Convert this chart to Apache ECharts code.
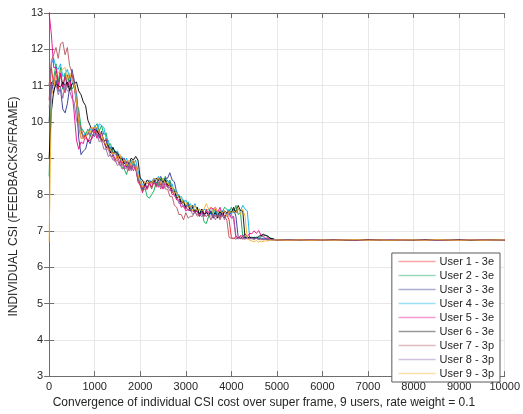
<!DOCTYPE html>
<html>
<head>
<meta charset="utf-8">
<script src="https://cdn.jsdelivr.net/npm/echarts@6/dist/echarts.min.js"></script>
<style>
  html, body { margin: 0; padding: 0; background: #fff; }
  #chart { width: 523px; height: 414px; }
</style>
</head>
<body>
<div id="chart"></div>
<script>
// Sample positions along the super-frame axis: every 50 frames up to 5000, then every 250.
const frames = [];
for (let k = 0; k <= 100; k++) frames.push(k * 50);
for (let k = 1; k <= 20; k++) frames.push(5000 + k * 250);

const userNames = [
  'User 1 - 3e', 'User 2 - 3e', 'User 3 - 3e', 'User 4 - 3e', 'User 5 - 3e',
  'User 6 - 3e', 'User 7 - 3p', 'User 8 - 3p', 'User 9 - 3p'
];

const user1 = [
  10.6, 11.5, 11.0, 11.4, 10.9, 11.3, 11.0, 10.8, 11.3, 11.1,
  11.3, 11.1, 10.8, 10.1, 9.75, 9.55, 9.65, 9.45, 9.6, 9.75,
  9.7, 9.85, 9.65, 9.7, 9.45, 9.55, 9.25, 9.3, 9.15, 9.2,
  8.95, 9.1, 8.85, 8.95, 8.75, 8.9, 8.7, 8.85, 8.8, 8.5,
  8.3, 8.1, 8.25, 8.15, 8.3, 8.2, 8.4, 8.25, 8.45, 8.25,
  8.35, 8.45, 8.2, 8.35, 8.05, 8.1, 7.9, 7.95, 7.75, 7.8,
  7.6, 7.75, 7.55, 7.65, 7.5, 7.6, 7.45, 7.55, 7.4, 7.6,
  7.4, 7.55, 7.35, 7.5, 7.45, 7.35, 7.55, 7.4, 7.45, 7.3,
  6.82, 6.78, 6.85, 6.8, 6.84, 6.79, 6.83, 6.8, 6.84, 6.79,
  6.82, 6.79, 6.81, 6.77, 6.8, 6.77, 6.78, 6.76, 6.77, 6.75,
  6.75,
  6.74, 6.75, 6.74, 6.75, 6.76, 6.74, 6.75, 6.74, 6.75, 6.74,
  6.75, 6.74, 6.76, 6.75, 6.74, 6.75, 6.74, 6.75, 6.74, 6.75
];
const user2 = [
  8.5, 11.0, 11.2, 11.6, 11.1, 11.5, 10.9, 11.35, 11.0, 11.3,
  10.9, 11.0, 10.5, 10.35, 9.85, 9.75, 9.65, 9.8, 9.6, 9.8,
  9.85, 9.95, 9.75, 9.9, 9.65, 9.7, 9.35, 9.4, 9.15, 9.2,
  8.95, 9.05, 8.75, 8.7, 8.55, 8.8, 8.7, 8.95, 8.75, 8.45,
  8.35, 8.15, 8.2, 7.95, 7.9, 8.0, 8.1, 8.35, 8.25, 8.45,
  8.3, 8.5, 8.25, 8.4, 8.15, 8.15, 7.95, 8.0, 7.8, 7.85,
  7.65, 7.8, 7.6, 7.7, 7.5, 7.65, 7.45, 7.6, 7.25, 7.2,
  7.4, 7.55, 7.5, 7.6, 7.4, 7.55, 7.5, 7.65, 7.6, 7.5,
  7.65, 7.5, 7.7, 7.45, 7.5, 6.85, 6.8, 6.84, 6.8, 6.83,
  6.8, 6.83, 6.79, 6.84, 6.86, 6.89, 6.84, 6.81, 6.78, 6.77,
  6.76,
  6.75, 6.74, 6.75, 6.76, 6.75, 6.74, 6.75, 6.76, 6.74, 6.75,
  6.74, 6.75, 6.75, 6.74, 6.76, 6.75, 6.74, 6.75, 6.75, 6.74
];
const user3 = [
  10.0, 11.1, 10.8, 11.15, 10.85, 10.9, 10.35, 10.25, 10.5, 10.95,
  11.45, 11.15, 10.5, 9.55, 9.1, 9.2, 9.25, 9.5, 9.4, 9.65,
  9.6, 9.8, 9.55, 9.75, 9.45, 9.5, 9.25, 9.3, 9.05, 9.2,
  9.0, 9.05, 8.95, 9.0, 8.75, 8.9, 8.85, 8.95, 8.7, 8.4,
  8.3, 8.15, 8.35, 8.15, 8.35, 8.3, 8.45, 8.25, 8.4, 8.5,
  8.35, 8.45, 8.45, 8.6, 8.4, 8.35, 8.05, 7.95, 7.8, 7.8,
  7.65, 7.75, 7.65, 7.7, 7.5, 7.55, 7.4, 7.6, 7.45, 7.5,
  7.45, 7.55, 7.35, 7.55, 7.5, 7.4, 7.55, 7.35, 7.5, 7.45,
  7.5, 7.6, 7.4, 6.82, 6.79, 6.84, 6.8, 6.83, 6.79, 6.8,
  6.78, 6.81, 6.78, 6.8, 6.77, 6.79, 6.76, 6.78, 6.75, 6.76,
  6.75,
  6.74, 6.75, 6.75, 6.74, 6.75, 6.74, 6.76, 6.75, 6.74, 6.75,
  6.75, 6.74, 6.75, 6.74, 6.75, 6.76, 6.74, 6.75, 6.74, 6.75
];
const user4 = [
  11.0, 11.6, 11.75, 11.5, 11.45, 11.6, 11.25, 11.3, 11.45, 11.2,
  11.15, 10.95, 10.75, 9.95, 9.75, 9.6, 9.7, 9.65, 9.8, 9.75,
  9.9, 9.75, 9.95, 9.9, 9.85, 9.55, 9.5, 9.25, 9.3, 9.15,
  9.2, 9.0, 9.05, 8.85, 9.0, 8.8, 8.95, 8.8, 8.95, 8.65,
  8.45, 8.25, 8.3, 8.3, 8.4, 8.35, 8.45, 8.4, 8.5, 8.3,
  8.45, 8.25, 8.4, 8.25, 8.3, 8.05, 8.1, 7.9, 7.95, 7.8,
  7.85, 7.7, 7.75, 7.6, 7.75, 7.55, 7.6, 7.45, 7.6, 7.55,
  7.6, 7.45, 7.6, 7.4, 7.55, 7.5, 7.55, 7.5, 7.45, 7.6,
  7.45, 7.6, 7.55, 7.6, 7.55, 7.7, 7.6, 7.55, 6.82, 6.78,
  6.83, 6.79, 6.81, 6.78, 6.8, 6.77, 6.78, 6.75, 6.76, 6.75,
  6.75,
  6.75, 6.74, 6.75, 6.75, 6.74, 6.76, 6.75, 6.74, 6.75, 6.75,
  6.74, 6.75, 6.76, 6.74, 6.75, 6.75, 6.74, 6.76, 6.75, 6.74
];
const user5 = [
  13.0, 12.4, 11.5, 11.5, 11.0, 11.35, 10.95, 11.25, 10.95, 11.15,
  10.85, 10.25, 9.5, 9.25, 9.45, 9.4, 9.65, 9.45, 9.5, 9.55,
  9.8, 9.55, 9.75, 9.5, 9.45, 9.3, 9.3, 9.15, 9.15, 8.95,
  9.1, 8.85, 9.0, 8.75, 8.9, 8.7, 8.85, 8.65, 8.8, 8.35,
  8.25, 8.05, 8.3, 8.15, 8.35, 8.2, 8.35, 8.3, 8.2, 8.35,
  8.15, 8.35, 8.2, 8.2, 8.0, 8.0, 7.85, 7.85, 7.65, 7.7,
  7.55, 7.6, 7.55, 7.55, 7.5, 7.55, 7.4, 7.55, 7.4, 7.55,
  7.5, 7.65, 7.6, 7.65, 7.5, 7.65, 7.45, 7.5, 7.45, 7.5,
  7.35, 7.4, 6.85, 6.8, 6.87, 6.85, 6.92, 6.84, 6.93, 6.92,
  7.0, 6.93, 7.01, 6.88, 6.86, 6.8, 6.81, 6.77, 6.78, 6.76,
  6.75,
  6.74, 6.75, 6.76, 6.75, 6.74, 6.75, 6.74, 6.75, 6.76, 6.74,
  6.75, 6.74, 6.75, 6.75, 6.74, 6.75, 6.76, 6.74, 6.75, 6.74
];
const user6 = [
  9.0, 10.3, 10.85, 11.05, 11.0, 10.95, 11.1, 11.0, 11.1, 10.85,
  11.05, 11.05, 11.1, 10.85, 10.75, 10.55, 10.45, 10.05, 9.9, 9.75,
  9.8, 9.75, 9.65, 9.5, 9.5, 9.3, 9.35, 9.15, 9.3, 9.15,
  9.15, 9.0, 9.0, 8.85, 8.9, 8.85, 9.0, 8.95, 9.05, 8.95,
  8.45, 8.4, 8.25, 8.4, 8.35, 8.35, 8.3, 8.45, 8.4, 8.4,
  8.35, 8.4, 8.25, 8.25, 8.1, 8.1, 7.9, 7.95, 7.75, 7.8,
  7.65, 7.7, 7.55, 7.65, 7.5, 7.65, 7.45, 7.6, 7.45, 7.5,
  7.45, 7.5, 7.45, 7.5, 7.35, 7.55, 7.4, 7.55, 7.5, 7.55,
  7.5, 7.65, 7.5, 7.7, 7.55, 7.55, 6.82, 6.79, 6.83, 6.8,
  6.81, 6.8, 6.85, 6.87, 6.91, 6.87, 6.86, 6.79, 6.79, 6.76,
  6.75,
  6.75, 6.74, 6.75, 6.74, 6.75, 6.75, 6.74, 6.76, 6.75, 6.74,
  6.75, 6.74, 6.75, 6.76, 6.74, 6.75, 6.74, 6.75, 6.75, 6.74
];
const user7 = [
  11.0, 11.7, 11.85, 12.05, 11.75, 12.15, 12.2, 11.85, 12.05, 11.55,
  11.35, 10.95, 10.55, 9.95, 9.85, 9.6, 9.65, 9.65, 9.85, 9.8,
  9.85, 9.65, 9.65, 9.45, 9.5, 9.25, 9.25, 9.05, 9.05, 8.9,
  8.95, 8.8, 8.85, 8.7, 8.85, 8.65, 8.8, 8.75, 8.75, 8.4,
  8.25, 8.1, 8.15, 8.15, 8.3, 8.15, 8.35, 8.2, 8.35, 8.15,
  8.3, 8.15, 8.15, 7.95, 7.95, 7.7, 7.65, 7.45, 7.45, 7.3,
  7.5, 7.35, 7.4, 7.4, 7.55, 7.4, 7.45, 7.4, 7.45, 7.4,
  7.45, 7.3, 7.45, 7.4, 7.45, 7.3, 7.45, 7.4, 7.3, 6.82,
  6.79, 6.8, 6.77, 6.81, 6.78, 6.8, 6.77, 6.8, 6.78, 6.79,
  6.77, 6.79, 6.76, 6.78, 6.76, 6.77, 6.75, 6.76, 6.75, 6.75,
  6.75,
  6.74, 6.75, 6.74, 6.74, 6.75, 6.76, 6.74, 6.75, 6.74, 6.75,
  6.76, 6.75, 6.74, 6.75, 6.74, 6.74, 6.75, 6.76, 6.74, 6.75
];
const user8 = [
  10.4, 11.0, 11.15, 11.05, 10.75, 10.95, 10.65, 11.05, 10.85, 10.85,
  10.65, 10.55, 10.05, 9.85, 9.55, 9.55, 9.55, 9.7, 9.65, 9.8,
  9.65, 9.65, 9.45, 9.5, 9.25, 9.25, 9.05, 9.1, 8.95, 8.95,
  8.8, 8.85, 8.7, 8.75, 8.7, 8.85, 8.65, 8.8, 8.75, 8.45,
  8.35, 8.2, 8.35, 8.3, 8.35, 8.35, 8.35, 8.3, 8.35, 8.2,
  8.35, 8.2, 8.25, 8.1, 8.15, 7.95, 7.95, 7.75, 7.8, 7.65,
  7.7, 7.55, 7.6, 7.45, 7.5, 7.45, 7.45, 7.4, 7.45, 7.4,
  7.45, 7.4, 7.45, 7.3, 7.45, 7.4, 7.45, 7.3, 7.45, 7.4,
  7.45, 7.3, 6.8, 6.78, 6.81, 6.77, 6.8, 6.78, 6.79, 6.79,
  6.77, 6.8, 6.76, 6.79, 6.75, 6.78, 6.75, 6.76, 6.75, 6.76,
  6.75,
  6.75, 6.74, 6.76, 6.75, 6.74, 6.75, 6.75, 6.74, 6.75, 6.76,
  6.74, 6.75, 6.74, 6.75, 6.75, 6.74, 6.76, 6.75, 6.74, 6.75
];
const user9 = [
  6.7, 10.7, 10.95, 11.3, 11.35, 11.4, 11.45, 11.5, 11.15, 11.35,
  11.15, 11.05, 10.55, 10.05, 9.55, 9.55, 9.55, 9.75, 9.7, 9.85,
  9.85, 9.85, 9.7, 9.65, 9.45, 9.4, 9.25, 9.25, 9.1, 9.15,
  8.95, 9.1, 8.9, 8.95, 8.8, 8.95, 8.8, 8.95, 8.8, 8.55,
  8.35, 8.2, 8.35, 8.3, 8.35, 8.3, 8.45, 8.4, 8.45, 8.3,
  8.45, 8.3, 8.35, 8.2, 8.2, 8.05, 8.05, 7.9, 7.9, 7.75,
  7.8, 7.65, 7.7, 7.55, 7.7, 7.55, 7.6, 7.55, 7.6, 7.75,
  7.6, 7.65, 7.5, 7.65, 7.5, 7.55, 7.5, 7.55, 7.4, 7.55,
  7.5, 7.55, 7.5, 7.65, 7.45, 7.6, 7.4, 6.8, 6.74, 6.72,
  6.7, 6.73, 6.69, 6.72, 6.7, 6.73, 6.72, 6.75, 6.73, 6.75,
  6.75,
  6.74, 6.75, 6.74, 6.75, 6.74, 6.75, 6.76, 6.74, 6.75, 6.74,
  6.75, 6.75, 6.74, 6.76, 6.75, 6.74, 6.75, 6.74, 6.75, 6.75
];

const userValues = [user1, user2, user3, user4, user5, user6, user7, user8, user9];
const userColors = [
  '#ee1c25', '#00a651', '#2e3192', '#00aeef', '#ec008c',
  '#000000', '#b5535c', '#8e63a8', '#f7b12a'
];

const xTicks = { min: 0, max: 10000, interval: 1000 };
const yTicks = { min: 3, max: 13, interval: 1 };

const textColor = '#262626';
const axisColor = '#6e6e6e';
const gridColor = '#e8e8e8';
const font = 'Liberation Sans, Arial, Helvetica, sans-serif';

const chart = echarts.init(document.getElementById('chart'), null, { renderer: 'canvas' });

// Axis used for the frame box: line plus inward ticks, no labels.
const boxAxis = (extra) => Object.assign({
  type: 'value',
  axisLine: { show: true, lineStyle: { color: axisColor, width: 1 } },
  axisTick: { show: true, inside: true, length: 5, lineStyle: { color: axisColor } },
  axisLabel: { show: false },
  splitLine: { show: false }
}, extra);

chart.setOption({
  animation: false,
  backgroundColor: '#ffffff',
  textStyle: { fontFamily: font },
  grid: { left: 40, top: 13, right: 15, bottom: 30, containLabel: false },
  xAxis: [
    boxAxis({
      position: 'bottom',
      min: xTicks.min, max: xTicks.max, interval: xTicks.interval,
      name: 'Convergence of individual CSI cost over super frame, 9 users, rate weight = 0.1',
      nameLocation: 'middle', nameGap: 15,
      nameTextStyle: { color: textColor, fontSize: 12, fontFamily: font, padding: [0, 26, 0, 0] },
      axisLabel: {
        show: true, color: textColor, fontSize: 11, margin: 5, fontFamily: font,
        formatter: (v) => String(v)
      },
      splitLine: { show: true, lineStyle: { color: gridColor, width: 1 } }
    }),
    boxAxis({ position: 'top', min: xTicks.min, max: xTicks.max, interval: xTicks.interval })
  ],
  yAxis: [
    boxAxis({
      position: 'left',
      min: yTicks.min, max: yTicks.max, interval: yTicks.interval,
      name: 'INDIVIDUAL CSI (FEEDBACKS/FRAME)',
      nameLocation: 'middle', nameGap: 26,
      nameTextStyle: { color: textColor, fontSize: 12, fontFamily: font, padding: [0, 24, 0, 0] },
      axisLabel: { show: true, color: textColor, fontSize: 11, margin: 6, fontFamily: font },
      splitLine: { show: true, lineStyle: { color: gridColor, width: 1 } }
    }),
    boxAxis({ position: 'right', min: yTicks.min, max: yTicks.max, interval: yTicks.interval })
  ],
  legend: {
    orient: 'vertical',
    right: 23,
    bottom: 32,
    backgroundColor: '#ffffff',
    borderColor: '#5a5a5a',
    borderWidth: 1,
    borderRadius: 0,
    padding: [3, 6, 3, 6],
    itemWidth: 37,
    itemHeight: 10,
    itemGap: 3,
    itemStyle: { opacity: 0, borderWidth: 0 },
    lineStyle: { width: 1.5, opacity: 0.4 },
    textStyle: { color: textColor, fontSize: 11, fontFamily: font, padding: [0, 0, 0, -1] },
    data: userNames
  },
  series: userNames.map((name, i) => ({
    name: name,
    type: 'line',
    xAxisIndex: 0,
    yAxisIndex: 0,
    symbol: 'none',
    showSymbol: false,
    smooth: false,
    color: userColors[i],
    lineStyle: { width: 0.9, color: userColors[i] },
    emphasis: { disabled: true },
    data: frames.map((f, k) => [f, userValues[i][k]])
  }))
});
</script>
</body>
</html>
